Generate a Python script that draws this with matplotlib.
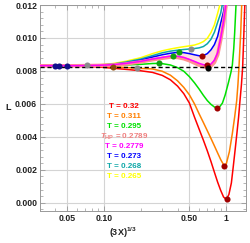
import matplotlib
matplotlib.use("Agg")
import matplotlib.pyplot as plt
from matplotlib.ticker import FixedLocator, FixedFormatter, LogLocator, NullFormatter, MultipleLocator

plt.rcParams['font.family'] = ['Liberation Sans', 'DejaVu Sans']
plt.rcParams['font.weight'] = 'bold'
plt.rcParams['mathtext.fontset'] = 'custom'
plt.rcParams['mathtext.rm'] = 'Liberation Sans:bold'
plt.rcParams['mathtext.bf'] = 'Liberation Sans:bold'
plt.rcParams['mathtext.it'] = 'Liberation Sans:italic:bold'

# ---- data ----
# lower curves (T = 0.32, 0.311, 0.295)
x_red = [0.03, 0.06, 0.09, 0.12, 0.16, 0.2, 0.25, 0.3, 0.35, 0.4, 0.45, 0.5, 0.55, 0.6,
         0.65, 0.7, 0.75, 0.8, 0.85, 0.9, 0.95, 1.0, 1.05, 1.1, 1.14, 1.18, 1.22, 1.26,
         1.29, 1.33, 1.36, 1.39, 1.42]
L_red = [0.00830, 0.00829, 0.00824, 0.00816, 0.00808, 0.00801, 0.00791, 0.00773, 0.00746,
         0.00708, 0.00662, 0.00605, 0.00520, 0.00447, 0.00380, 0.00315, 0.00250, 0.00185,
         0.00125, 0.00075, 0.00035, 0.00020, 0.00050, 0.00120, 0.00220, 0.00320, 0.00420,
         0.00520, 0.00610, 0.00720, 0.00824, 0.01020, 0.01230]

x_orange = [0.03, 0.06, 0.09, 0.12, 0.15, 0.19, 0.25, 0.3, 0.35, 0.4, 0.45, 0.5, 0.55,
            0.6, 0.65, 0.7, 0.75, 0.8, 0.85, 0.9, 0.955, 1.0, 1.06, 1.12, 1.17, 1.216,
            1.245, 1.269, 1.29, 1.311, 1.34]
L_orange = [0.00830, 0.00830, 0.00829, 0.00826, 0.00821, 0.00816, 0.00812, 0.00798,
            0.00774, 0.00740, 0.00700, 0.00655, 0.00600, 0.00540, 0.00487, 0.00437,
            0.00390, 0.00345, 0.00302, 0.00262, 0.00228, 0.00236, 0.00310, 0.00420,
            0.00520, 0.00620, 0.00720, 0.00824, 0.00930, 0.01030, 0.01230]

x_green = [0.03, 0.06, 0.09, 0.12, 0.15, 0.2, 0.25, 0.29, 0.35, 0.4, 0.45, 0.5, 0.55,
           0.6, 0.65, 0.7, 0.75, 0.8, 0.835, 0.88, 0.93, 0.98, 1.04, 1.09, 1.12, 1.15,
           1.17, 1.2, 1.22]
L_green = [0.00830, 0.00830, 0.00831, 0.00833, 0.00836, 0.00840, 0.00845, 0.00846,
           0.00836, 0.00820, 0.00798, 0.00765, 0.00728, 0.00690, 0.00652, 0.00620,
           0.00597, 0.00581, 0.00576, 0.00581, 0.00605, 0.00655, 0.00728, 0.00790,
           0.00835, 0.00935, 0.01030, 0.01200, 0.01300]

# upper curves share one x grid
x_up = [0.03, 0.06, 0.09, 0.12, 0.15, 0.2, 0.25, 0.3, 0.35, 0.4, 0.45, 0.5, 0.55, 0.6,
        0.65, 0.7, 0.75, 0.8, 0.85, 0.9, 0.95, 1.0, 1.05]
L_yellow = [0.00832, 0.00833, 0.00836, 0.00845, 0.00858, 0.00880, 0.00905, 0.00922,
            0.00933, 0.00941, 0.00947, 0.00952, 0.00957, 0.00966, 0.00978, 0.00998,
            0.01033, 0.01080, 0.01150, 0.01220, 0.01400, 0.01500, 0.01700]
L_cyan = [0.00832, 0.00833, 0.00835, 0.00842, 0.00853, 0.00872, 0.00893, 0.00910,
          0.00920, 0.00926, 0.00930, 0.00933, 0.00936, 0.00940, 0.00948, 0.00965,
          0.00992, 0.01035, 0.01095, 0.01150, 0.01240, 0.01400, 0.01600]
L_blue = [0.00832, 0.00832, 0.00834, 0.00840, 0.00848, 0.00865, 0.00884, 0.00898,
          0.00907, 0.00913, 0.00911, 0.00905, 0.00898, 0.00892, 0.00893, 0.00905,
          0.00928, 0.00960, 0.01010, 0.01090, 0.01160, 0.01270, 0.01450]
L_magenta = [0.00832, 0.00832, 0.00834, 0.00838, 0.00845, 0.00858, 0.00872, 0.00882,
             0.00890, 0.00889, 0.00882, 0.00870, 0.00858, 0.00846, 0.00838, 0.00834,
             0.00842, 0.00865, 0.00910, 0.01000, 0.01100, 0.01220, 0.01400]
L_pink = [0.00831, 0.00831, 0.00833, 0.00836, 0.00842, 0.00855, 0.00868, 0.00877,
          0.00884, 0.00882, 0.00874, 0.00862, 0.00848, 0.00835, 0.00826, 0.00822,
          0.00830, 0.00852, 0.00898, 0.00988, 0.01090, 0.01210, 0.01400]

L_dashed = 0.00822

dots_x = [0.040, 0.0435, 0.0497, 0.0733, 0.118, 0.186, 0.284, 0.365, 0.409, 0.512,
          0.634, 0.692, 0.705, 0.835, 0.955, 1.005]
dots_L = [0.0083, 0.0083, 0.00832, 0.00834, 0.00826, 0.00816, 0.00846, 0.00891, 0.00913,
          0.00933, 0.00891, 0.00836, 0.00818, 0.00577, 0.00225, 0.0002]
dots_c = ['#10108c', '#10108c', '#10108c', '#8c8c8c', '#8b4a0a', '#8c8c8c', '#10a010',
          '#10a010', '#10a010', '#8c8c8c', '#a00000', '#a00000', 'black', '#a00000',
          '#a00000', '#a00000']

labels = ['T = 0.32', 'T = 0.311', 'T = 0.295', r'$\mathit{T}_{\mathbf{HP}}$ = 0.2789',
          'T = 0.2779', 'T = 0.273', 'T = 0.268', 'T = 0.265']
label_colors = ['#ff0000', '#ff8000', '#00e000', '#f08080', '#ff00ff', '#0000ff',
                '#10a8a8', '#ffff00']

x_ticks = [0.05, 0.1, 0.5, 1]
x_ticklabels = ['0.05', '0.10', '0.50', '1']

fig = plt.figure(figsize=(2.5, 2.43), dpi=100)
ax = fig.add_axes([0.16, 0.1317, 0.824, 0.8477])
ax.set_xscale('log')

# shaded region between blue and T_HP
sel = [i for i in range(len(x_up)) if 0.33 <= x_up[i] <= 1.0]
ax.fill_between([x_up[i] for i in sel], [L_pink[i] for i in sel],
                [L_blue[i] for i in sel], color='#ffdede', lw=0, zorder=1)

lw = 1.1
ax.plot(x_red, L_red, color='#ff0000', lw=lw, zorder=3)
ax.plot(x_orange, L_orange, color='#ff8000', lw=lw, zorder=3)
ax.plot(x_green, L_green, color='#00e000', lw=lw, zorder=3)
ax.plot(x_up, L_yellow, color='#ffff00', lw=lw, zorder=3)
ax.plot(x_up, L_cyan, color='#10a8a8', lw=lw, zorder=3)
ax.plot(x_up, L_blue, color='#0000ff', lw=lw, zorder=3)
ax.plot(x_up, L_pink, color='#ff9090', lw=2.6, zorder=3)
ax.plot(x_up, L_magenta, color='#ff00ff', lw=lw, zorder=3)

ax.axhline(L_dashed, color='black', lw=1.0, ls=(0, (3, 2)), zorder=4)

for i in range(len(dots_x)):
    ax.plot(dots_x[i], dots_L[i], 'o', color=dots_c[i], ms=4.4, mew=0, zorder=5)

for i in range(len(labels)):
    ax.text(0.408, 0.506 - i * 0.0485, labels[i], color=label_colors[i],
            transform=ax.transAxes, ha='center', va='center', fontsize=5.8,
            fontweight='bold', zorder=6)

ax.set_xlim(0.0302, 1.448)
ax.set_ylim(-0.0005, 0.012)

ax.xaxis.set_major_locator(FixedLocator(x_ticks))
ax.xaxis.set_major_formatter(FixedFormatter(x_ticklabels))
ax.xaxis.set_minor_locator(LogLocator(base=10, subs=[2, 3, 4, 5, 6, 7, 8, 9]))
ax.xaxis.set_minor_formatter(NullFormatter())
ax.yaxis.set_major_locator(MultipleLocator(0.002))
ax.yaxis.set_minor_locator(MultipleLocator(0.0004))
ax.yaxis.set_major_formatter(matplotlib.ticker.FormatStrFormatter('%.3f'))

ax.grid(True, which='major', color='#d4d4d4', lw=0.8, zorder=0)
ax.set_axisbelow(True)
ax.tick_params(which='both', direction='in', colors='#999999', labelcolor='#222222',
               labelsize=6.3, top=True, right=True)
ax.tick_params(which='major', length=3.5, width=0.6)
ax.tick_params(which='minor', length=2, width=0.5)
ax.tick_params(axis='x', pad=2.5)
ax.tick_params(axis='y', pad=2)
for s in ax.spines.values():
    s.set_color('#999999')
    s.set_linewidth(0.7)

fig.text(8 / 250, 1 - 108 / 243, 'L', ha='center', va='center', fontsize=6.5,
         fontweight='bold', color='#222222')
fig.text(123 / 250, 1 - 233 / 243, r'(3X)$^{1/3}$', ha='center', va='center',
         fontsize=6.5, fontweight='bold', color='#222222')

fig.savefig('out.png', dpi=100)
